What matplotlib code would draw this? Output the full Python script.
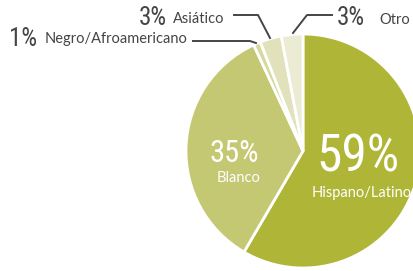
import matplotlib.pyplot as plt

W, H = 414, 271

labels = ['Hispano/Latino', 'Blanco', 'Negro/Afroamericano', 'Asiático', 'Otro']
pct = [59, 35, 1, 3, 3]
colors = ['#afb536', '#c5c872', '#d6d99e', '#e1e2bb', '#ececd4']

NUM = ['Roboto Condensed', 'Open Sans Condensed', 'Liberation Sans Narrow', 'Lato']
TXT = ['Lato', 'DejaVu Sans']
dark = '#454545'

fig = plt.figure(figsize=(W / 100, H / 100), dpi=100)
ax = fig.add_axes([0, 0, 1, 1])

# pie in pixel coordinates (y up)
cx, cy, r = 303, H - 151, 117
ax.pie(pct, colors=colors, startangle=90, counterclock=False,
       center=(cx, cy), radius=r,
       wedgeprops=dict(edgecolor='white', linewidth=2))
ax.set_xlim(0, W)
ax.set_ylim(0, H)
ax.set_aspect('equal')
ax.axis('off')


def Y(py):
    return H - py


num_kw = dict(family=NUM, fontstretch='condensed', va='baseline')
txt_kw = dict(family=TXT, fontsize=10.5, va='baseline')

# inside labels
ax.text(234, Y(162), f'{pct[1]}%', fontsize=22, color='white', ha='center', **num_kw)
ax.text(239, Y(182), labels[1], color='white', ha='center', **txt_kw)
ax.text(358, Y(171), f'{pct[0]}%', fontsize=37, color='white', ha='center', **num_kw)
ax.text(362, Y(197), labels[0], color='white', ha='center', **txt_kw)

# outside labels with leader lines
ax.text(9, Y(46), f'{pct[2]}%', fontsize=18, color=dark, ha='left', **num_kw)
ax.text(45, Y(43), labels[2], color=dark, ha='left', **txt_kw)
ax.plot([193, 250, 256], [Y(41), Y(41), Y(43)], color=dark, lw=1.4)

ax.text(139, Y(25), f'{pct[3]}%', fontsize=18, color=dark, ha='left', **num_kw)
ax.text(173, Y(23), labels[3], color=dark, ha='left', **txt_kw)
ax.plot([234, 258, 270], [Y(15), Y(15), Y(38)], color=dark, lw=1.4)

ax.text(337, Y(25), f'{pct[4]}%', fontsize=18, color=dark, ha='left', **num_kw)
ax.text(379, Y(24), labels[4], color=dark, ha='left', **txt_kw)
ax.plot([293, 307, 332], [Y(33), Y(15), Y(15)], color=dark, lw=1.4)

fig.savefig('out.png', dpi=100, facecolor='white')
